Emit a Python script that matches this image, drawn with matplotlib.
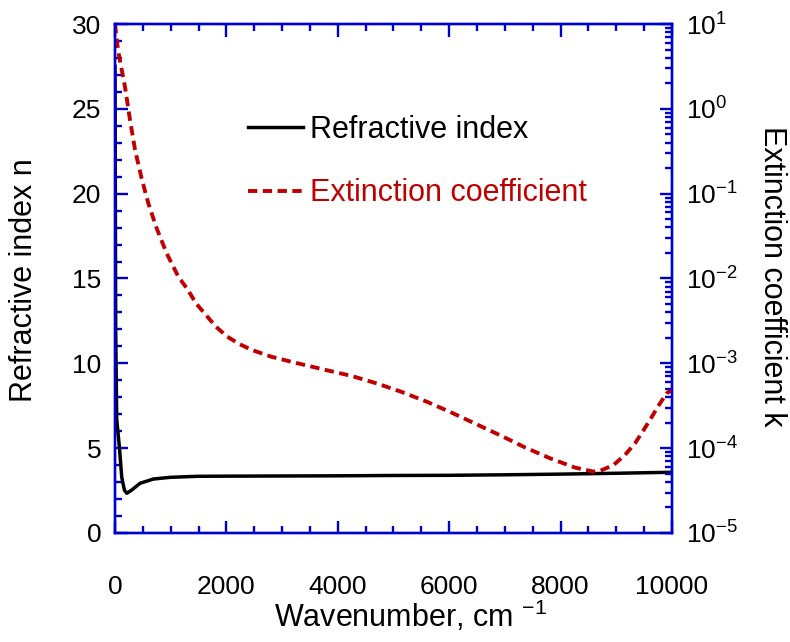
import matplotlib
matplotlib.use("Agg")
import matplotlib.pyplot as plt
from matplotlib.ticker import MultipleLocator, LogLocator, LogFormatterMathtext, NullFormatter

plt.rcParams['font.family'] = ['Liberation Sans', 'DejaVu Sans']
plt.rcParams['mathtext.fontset'] = 'custom'
plt.rcParams['mathtext.rm'] = 'Liberation Sans'
plt.rcParams['mathtext.it'] = 'Liberation Sans'
plt.rcParams['mathtext.default'] = 'regular'
plt.rcParams['axes.unicode_minus'] = False

# refractive index n vs wavenumber (cm^-1)
n_wn = [0, 12, 30, 78, 120, 168, 210, 300, 449, 688, 987, 1466, 2000, 3000,
        4000, 5000, 6000, 7000, 8000, 9000, 10000]
n_val = [27.5, 12.0, 6.7, 5.08, 3.3, 2.53, 2.34, 2.53, 2.93, 3.18, 3.28, 3.34,
         3.35, 3.36, 3.37, 3.39, 3.40, 3.43, 3.47, 3.52, 3.58]

# extinction coefficient k vs wavenumber (cm^-1)
k_wn = [0, 18, 54, 180, 269, 359, 479, 598, 748, 927, 1137, 1299, 1454, 1634,
        1813, 2016, 2232, 2454, 2800, 3172, 3800, 4249, 4698, 5147, 5596, 6045,
        6463, 6943, 7361, 7810, 8259, 8587, 8707, 8946, 9156, 9336, 9485, 9623,
        9754, 9905, 10000]
k_val = [10.0, 7.8, 4.9, 1.8, 0.74, 0.33, 0.15, 0.077, 0.039, 0.0198, 0.0105,
         0.0075, 0.0051, 0.0037, 0.0027, 0.00206, 0.00169, 0.00144, 0.0012,
         0.00104, 0.00083, 0.00071, 0.00058, 0.00046, 0.000353, 0.000262,
         0.000195, 0.000139, 0.000102, 7.6e-5, 5.9e-5, 5.3e-5, 5.4e-5, 6.3e-5,
         8.3e-5, 1.14e-4, 1.61e-4, 2.25e-4, 3.14e-4, 4.44e-4, 4.85e-4]

blue = '#0000CC'
red = '#C00000'
fs = 19      # tick labels
lfs = 22     # axis labels and legend

fig = plt.figure(figsize=(7.9, 6.42), dpi=100)
ax = fig.add_axes([0.1456, 0.1698, 0.705, 0.7928])
ax2 = ax.twinx()

ln1, = ax.plot(n_wn, n_val, color='black', lw=2.5, label='Refractive index')
ln2, = ax2.plot(k_wn, k_val, color=red, lw=2.8, ls=(0, (2.4, 1.4)),
                label='Extinction coefficient')

ax.set_xlim(0, 10000)
ax.set_ylim(0, 30)
ax2.set_yscale('log')
ax2.set_ylim(1e-5, 1e1)

ax.xaxis.set_major_locator(MultipleLocator(2000))
ax.xaxis.set_minor_locator(MultipleLocator(500))
ax.yaxis.set_major_locator(MultipleLocator(5))
ax.yaxis.set_minor_locator(MultipleLocator(1))
ax2.yaxis.set_major_locator(LogLocator(base=10, numticks=10))
ax2.yaxis.set_minor_locator(LogLocator(base=10, subs=range(2, 10), numticks=20))
ax2.yaxis.set_major_formatter(LogFormatterMathtext())
ax2.yaxis.set_minor_formatter(NullFormatter())

for a in (ax, ax2):
    for s in a.spines.values():
        s.set_color(blue)
        s.set_linewidth(1.7)
ax.tick_params(axis='x', which='both', direction='in', top=True, color=blue,
               width=1.7, labelsize=fs, pad=30)
ax.tick_params(axis='y', which='both', direction='in', right=False, color=blue,
               width=1.7, labelsize=fs, pad=10)
ax2.tick_params(axis='y', which='both', direction='in', color=blue, width=1.7,
                labelsize=fs, pad=10)
ax.tick_params(which='major', length=9)
ax.tick_params(which='minor', length=5)
ax2.tick_params(which='major', length=9)
ax2.tick_params(which='minor', length=5)

ax.set_xlabel('Wavenumber, cm $^{-1}$', fontsize=lfs)
ax.xaxis.set_label_coords(0.53, -0.13)
ax.set_ylabel('Refractive index n', fontsize=lfs)
ax.yaxis.set_label_coords(-0.136, 0.497)
ax2.set_ylabel('Extinction coefficient k', fontsize=lfs, rotation=270, va='bottom')
ax2.yaxis.set_label_coords(1.152, 0.505)

leg = ax.legend(handles=[ln1, ln2], loc='upper left', bbox_to_anchor=(0.239, 0.822),
                frameon=False, fontsize=lfs, handlelength=1.8, handletextpad=0.23,
                labelspacing=1.1, borderpad=0, borderaxespad=0)
leg.get_texts()[1].set_color(red)

fig.savefig('out.png', dpi=100)
